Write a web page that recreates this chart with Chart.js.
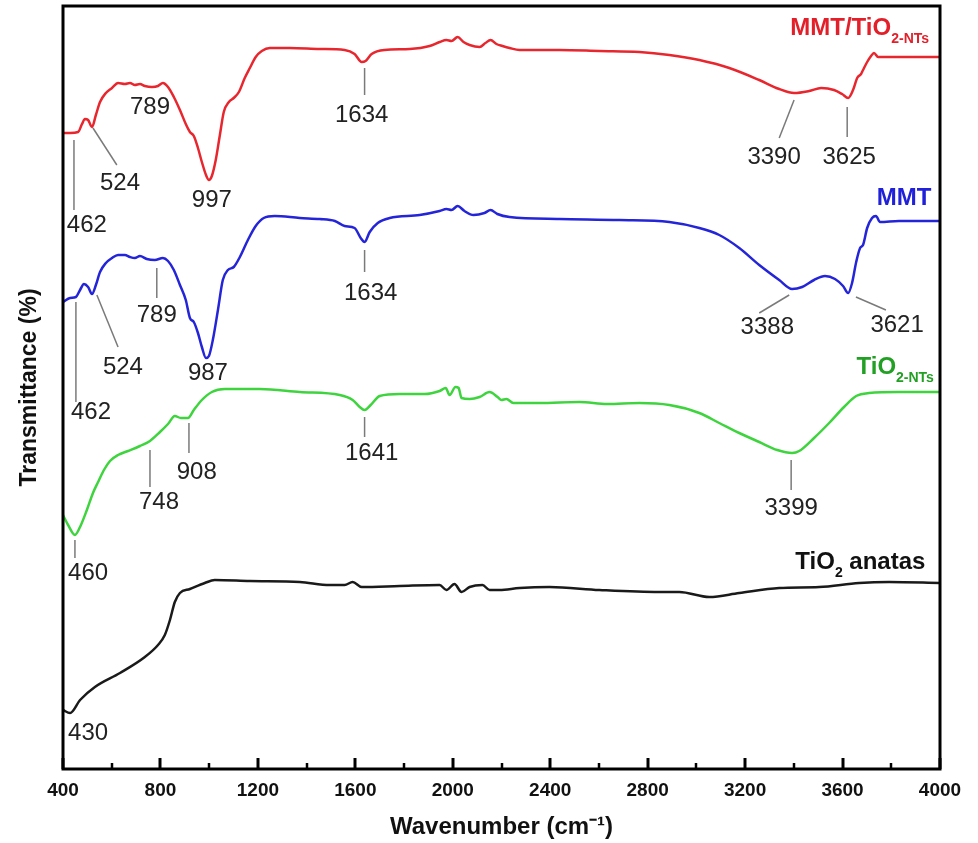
<!DOCTYPE html>
<html>
<head>
<meta charset="utf-8">
<script src="https://cdn.jsdelivr.net/npm/chart.js@4.4.1/dist/chart.umd.min.js"></script>
<style>
  html, body { margin: 0; padding: 0; background: #fff; }
  #wrap { width: 978px; height: 843px; position: relative; }
</style>
</head>
<body>
<div id="wrap"><canvas id="ftirChart"></canvas></div>
<script>
// FTIR spectra, stacked, arbitrary transmittance units (curves offset)

const xTicks = [400, 800, 1200, 1600, 2000, 2400, 2800, 3200, 3600, 4000];

// MMT/TiO2-NTs
const compWave = [400, 429, 462, 478, 490, 503, 519, 535, 552, 576, 601, 626, 654, 675, 695, 716, 736, 765, 790, 810, 831, 855, 880, 904, 921, 937, 954, 970, 987, 999, 1011, 1027, 1044, 1060, 1081, 1101, 1122, 1146, 1167, 1191, 1216, 1249, 1331, 1454, 1556, 1597, 1626, 1642, 1667, 1720, 1823, 1905, 1946, 1974, 1995, 2020, 2044, 2069, 2110, 2134, 2155, 2179, 2204, 2233, 2274, 2438, 2602, 2766, 2889, 3012, 3135, 3258, 3340, 3401, 3463, 3512, 3565, 3598, 3623, 3643, 3660, 3676, 3684, 3701, 3717, 3729, 3746, 3832, 4000];
const compT    = [636, 636, 637, 645, 650, 649, 642, 654, 667, 676, 681, 686, 685, 686, 684, 685, 683, 682, 683, 686, 682, 672, 659, 645, 637, 633, 621, 607, 594, 589, 593, 609, 634, 657, 667, 671, 677, 691, 701, 712, 718, 721, 721, 720, 719, 715, 707, 708, 715, 719, 720, 723, 727, 729, 728, 732, 727, 724, 722, 726, 729, 725, 723, 721, 719, 719, 718, 717, 714, 709, 701, 689, 680, 676, 678, 681, 679, 675, 671, 679, 691, 695, 699, 707, 713, 716, 712, 712, 712];

// MMT
const mmtWave = [400, 429, 453, 470, 486, 503, 519, 535, 552, 576, 601, 626, 654, 675, 695, 716, 744, 777, 810, 831, 855, 880, 904, 921, 937, 954, 970, 987, 999, 1015, 1036, 1056, 1077, 1101, 1126, 1159, 1191, 1224, 1269, 1372, 1454, 1516, 1556, 1597, 1622, 1638, 1659, 1692, 1741, 1864, 1946, 1974, 1995, 2020, 2048, 2085, 2130, 2155, 2183, 2233, 2438, 2684, 2889, 3012, 3094, 3176, 3258, 3340, 3393, 3434, 3483, 3528, 3569, 3602, 3623, 3639, 3656, 3672, 3684, 3701, 3721, 3737, 3754, 3832, 4000];
const mmtT    = [467, 471, 472, 479, 485, 482, 475, 484, 497, 506, 511, 514, 514, 512, 511, 513, 510, 509, 511, 508, 499, 484, 469, 451, 447, 436, 422, 411, 413, 429, 459, 489, 499, 502, 512, 529, 543, 551, 553, 551, 550, 548, 543, 541, 531, 527, 537, 546, 551, 554, 558, 560, 559, 563, 558, 554, 556, 559, 555, 552, 550, 549, 547, 541, 534, 521, 504, 489, 480, 482, 489, 493, 490, 483, 476, 486, 507, 521, 524, 541, 551, 553, 547, 548, 548];

// TiO2-NTs
const ntsWave = [400, 421, 449, 470, 498, 523, 544, 568, 593, 626, 667, 716, 757, 798, 831, 859, 884, 913, 937, 970, 1011, 1064, 1208, 1372, 1536, 1589, 1618, 1638, 1663, 1700, 1782, 1884, 1946, 1971, 1987, 2011, 2024, 2036, 2069, 2110, 2151, 2184, 2200, 2220, 2249, 2356, 2520, 2634, 2766, 2889, 3012, 3094, 3176, 3258, 3332, 3393, 3422, 3483, 3545, 3606, 3656, 3709, 3832, 4000];
const ntsT    = [254, 244, 234, 242, 259, 276, 287, 299, 308, 314, 318, 323, 328, 337, 345, 353, 351, 351, 359, 369, 377, 380, 380, 377, 374, 369, 362, 359, 364, 373, 375, 375, 378, 381, 374, 382, 381, 371, 370, 372, 377, 372, 369, 370, 366, 366, 367, 365, 366, 364, 356, 346, 336, 327, 319, 316, 318, 331, 346, 362, 373, 376, 377, 377];

// TiO2 anatase
const anaWave = [400, 429, 470, 531, 634, 736, 790, 818, 839, 859, 880, 921, 982, 1023, 1167, 1372, 1495, 1556, 1589, 1626, 1782, 1946, 1974, 2007, 2036, 2069, 2122, 2151, 2192, 2274, 2397, 2602, 2848, 2930, 3053, 3176, 3340, 3504, 3668, 3791, 4000];
const anaT    = [59, 56, 69, 82, 96, 112, 124, 134, 149, 167, 176, 180, 186, 189, 188, 187, 184, 184, 187, 182, 183, 184, 179, 185, 177, 182, 184, 179, 179, 181, 182, 179, 177, 177, 172, 176, 181, 182, 186, 187, 186];

// peak numbers: text, wavenumber, level
const peakText  = ['462', '524', '789', '997', '1634', '3390', '3625',
                   '462', '524', '789', '987', '1634', '3388', '3621',
                   '460', '748', '908', '1641', '3399', '430'];
const peakWave  = [498, 634, 757, 1011, 1626, 3319, 3627,
                   515, 646, 785, 995, 1663, 3291, 3824,
                   503, 794, 949, 1667, 3389, 503];
const peakLevel = [544, 586, 662, 569, 654, 612, 612,
                   357, 402, 454, 396, 476, 442, 444,
                   196, 267, 297, 316, 261, 36];

// leader lines: [w1, v1, w2, v2]
const leaders = [
  [445, 629, 445, 559], [523, 641, 621, 604], [1638, 701, 1638, 674],
  [3401, 669, 3340, 631], [3619, 662, 3619, 632],
  [453, 467, 453, 367], [539, 474, 626, 422], [785, 501, 785, 471],
  [1638, 519, 1638, 497], [3381, 474, 3258, 456], [3655, 472, 3778, 459],
  [449, 229, 449, 211], [757, 319, 757, 282], [917, 346, 917, 316],
  [1638, 352, 1638, 332], [3389, 309, 3389, 279]
];

// series names (main, subscript, tail), right edge wavenumber, level
const nameMain = ['MMT/TiO', 'MMT', 'TiO', 'TiO'];
const nameSub  = ['2-NTs', '', '2-NTs', '2'];
const nameTail = ['', '', '', ' anatas'];
const nameWave = [3955, 3965, 3975, 3940];
const nameLevel = [741, 571, 402, 207];
const nameColor = ['#e3202a', '#2121d9', '#22a024', '#111'];

const FONT = '"Liberation Sans", Arial, Helvetica, sans-serif';

function toPts(w, t) {
    return w.map((v, i) => ({ x: v, y: t[i] }));
}

const overlay = {
    id: 'overlay',
    afterDatasetsDraw(chart) {
        const { ctx, chartArea: a, scales: { x, y } } = chart;
        ctx.save();

        // inward ticks on bottom axis
        ctx.strokeStyle = '#000';
        for (let w = 400; w <= 4000; w += 200) {
            const px = Math.round(x.getPixelForValue(w));
            const major = w % 400 === 0;
            ctx.lineWidth = major ? 3 : 2.5;
            ctx.beginPath();
            ctx.moveTo(px, a.bottom);
            ctx.lineTo(px, a.bottom - (major ? 11 : 6));
            ctx.stroke();
        }

        // frame
        ctx.lineWidth = 3;
        ctx.strokeRect(a.left, a.top, a.right - a.left, a.bottom - a.top);

        // leader lines
        ctx.strokeStyle = '#7a7a7a';
        ctx.lineWidth = 1.5;
        leaders.forEach(l => {
            ctx.beginPath();
            ctx.moveTo(x.getPixelForValue(l[0]), y.getPixelForValue(l[1]));
            ctx.lineTo(x.getPixelForValue(l[2]), y.getPixelForValue(l[3]));
            ctx.stroke();
        });

        // peak numbers
        ctx.fillStyle = '#222';
        ctx.font = '24px ' + FONT;
        ctx.textAlign = 'center';
        ctx.textBaseline = 'middle';
        peakText.forEach((t, i) => {
            ctx.fillText(t, x.getPixelForValue(peakWave[i]), y.getPixelForValue(peakLevel[i]));
        });

        // series names with subscripts, right aligned
        ctx.textAlign = 'left';
        ctx.textBaseline = 'middle';
        nameMain.forEach((m, i) => {
            const bigFont = 'bold 24px ' + FONT;
            const subFont = 'bold 14px ' + FONT;
            ctx.font = bigFont;
            const wMain = ctx.measureText(m).width;
            const wTail = ctx.measureText(nameTail[i]).width;
            ctx.font = subFont;
            const wSub = ctx.measureText(nameSub[i]).width;
            const right = x.getPixelForValue(nameWave[i]);
            const cy = y.getPixelForValue(nameLevel[i]);
            let px = right - wMain - wSub - wTail;
            ctx.fillStyle = nameColor[i];
            ctx.font = bigFont;
            ctx.fillText(m, px, cy);
            px += wMain;
            ctx.font = subFont;
            ctx.fillText(nameSub[i], px, cy + 11);
            px += wSub;
            ctx.font = bigFont;
            ctx.fillText(nameTail[i], px, cy);
        });

        ctx.restore();
    }
};

const lineStyle = { pointRadius: 0, borderWidth: 2.5, fill: false, cubicInterpolationMode: 'monotone' };

new Chart(document.getElementById('ftirChart'), {
    type: 'line',
    data: {
        datasets: [
            { label: 'MMT/TiO2-NTs', data: toPts(compWave, compT), borderColor: '#e8262e', ...lineStyle },
            { label: 'MMT', data: toPts(mmtWave, mmtT), borderColor: '#2424d8', ...lineStyle },
            { label: 'TiO2-NTs', data: toPts(ntsWave, ntsT), borderColor: '#3ed43e', ...lineStyle },
            { label: 'TiO2 anatas', data: toPts(anaWave, anaT), borderColor: '#1a1a1a', ...lineStyle }
        ]
    },
    options: {
        responsive: true,
        maintainAspectRatio: false,
        animation: false,
        events: [],
        layout: { padding: { top: 6, right: 38, left: 0, bottom: 0 } },
        plugins: { legend: { display: false }, tooltip: { enabled: false } },
        scales: {
            x: {
                type: 'linear',
                min: 400,
                max: 4000,
                afterBuildTicks: s => { s.ticks = xTicks.map(v => ({ value: v })); },
                afterFit: s => { s.height = 74; },
                grid: { display: false, drawTicks: false },
                border: { display: false },
                ticks: { color: '#111', font: { family: FONT, size: 19, weight: 'bold' }, padding: 10, maxRotation: 0,
                         callback: v => String(v) },
                title: { display: true, text: 'Wavenumber (cm\u207B\u00B9)', color: '#111',
                         font: { family: FONT, size: 24, weight: 'bold' }, padding: { top: 0, bottom: 1 } }
            },
            y: {
                min: 0,
                max: 763,
                afterFit: s => { s.width = 63; },
                grid: { display: false, drawTicks: false },
                border: { display: false },
                ticks: { display: false },
                title: { display: true, text: 'Transmittance (%)', color: '#111',
                         font: { family: FONT, size: 23, weight: 'bold' }, padding: { top: 16, bottom: 0 } }
            }
        }
    },
    plugins: [overlay]
});
</script>
</body>
</html>
